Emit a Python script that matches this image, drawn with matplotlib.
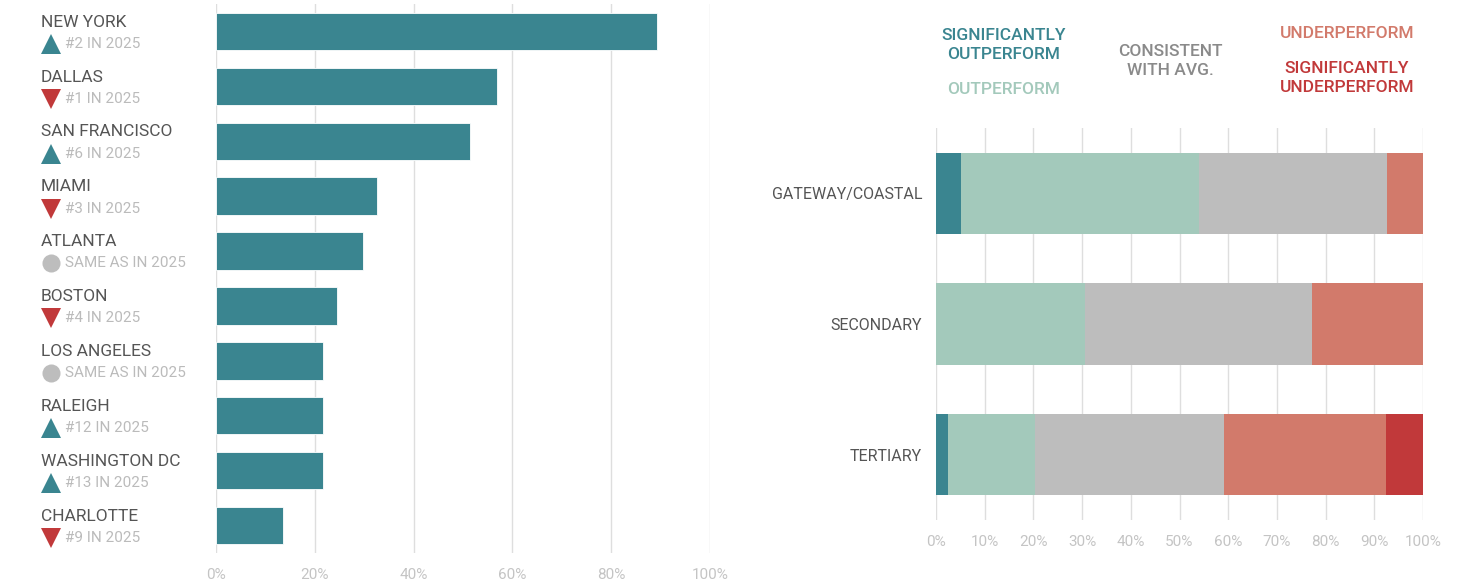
import matplotlib
matplotlib.use("Agg")
import matplotlib.pyplot as plt
from matplotlib.transforms import blended_transform_factory

plt.rcParams["font.family"] = ["Roboto", "DejaVu Sans"]

# ── data ────────────────────────────────────────
cities = ["NEW YORK", "DALLAS", "SAN FRANCISCO", "MIAMI", "ATLANTA",
          "BOSTON", "LOS ANGELES", "RALEIGH", "WASHINGTON DC", "CHARLOTTE"]
city_share = [89.3, 56.9, 51.4, 32.6, 29.8, 24.5, 21.7, 21.7, 21.7, 13.6]
prev_rank = ["#2 IN 2025", "#1 IN 2025", "#6 IN 2025", "#3 IN 2025",
             "SAME AS IN 2025", "#4 IN 2025", "SAME AS IN 2025",
             "#12 IN 2025", "#13 IN 2025", "#9 IN 2025"]
rank_move = ["up", "down", "up", "down", "same", "down", "same", "up", "up", "down"]

tiers = ["GATEWAY/COASTAL", "SECONDARY", "TERTIARY"]
sig_out = [5.1, 0.0, 2.5]
out = [48.9, 30.6, 17.8]
consistent = [38.6, 46.6, 38.8]
under = [7.4, 22.8, 33.3]
sig_under = [0.0, 0.0, 7.6]

TEAL = "#3A8590"
LIGHT_TEAL = "#A3C9BB"
GREY = "#BDBDBD"
SALMON = "#D27A6B"
RED = "#C1393A"
GRID = "#DEDEDE"
TICK = "#C4C4C4"
DARK = "#555555"

W, H = 1460, 582
fig = plt.figure(figsize=(W / 100, H / 100), dpi=100)

# ── left: city bars ─────────────────────────────
ax1 = fig.add_axes([216 / W, 1 - 553 / H, 494 / W, 549 / H])
ypos = list(range(len(cities)))
ax1.barh(ypos, city_share, height=0.68, color=TEAL, edgecolor="white",
         linewidth=0.6, zorder=3)
ax1.set_xlim(0, 100)
ax1.set_ylim(len(cities) - 0.5, -0.5)
ax1.set_xticks(range(0, 101, 20))
ax1.set_xticklabels([f"{v}%" for v in range(0, 101, 20)])
ax1.set_yticks([])
ax1.grid(True, axis="x", color=GRID, linewidth=1, zorder=0)
for s in ax1.spines.values():
    s.set_visible(False)
ax1.tick_params(axis="x", length=0, pad=11, labelsize=11, labelcolor=TICK)

tr = blended_transform_factory(fig.transFigure, ax1.transData)
marker_style = {"up": ("^", TEAL, 15), "down": ("v", RED, 15), "same": ("o", GREY, 13)}
for i, (name, rank, move) in enumerate(zip(cities, prev_rank, rank_move)):
    ax1.text(41 / W, i - 0.17, name, transform=tr, fontsize=12.5,
             color=DARK, va="center", ha="left")
    m, c, ms = marker_style[move]
    ax1.plot([51 / W], [i + 0.225], marker=m, color=c, markersize=ms,
             markeredgewidth=0, transform=tr, clip_on=False)
    ax1.text(65 / W, i + 0.225, rank, transform=tr, fontsize=11,
             color="#BBBBBB", va="center", ha="left")

# ── right: stacked tiers ────────────────────────
ax2 = fig.add_axes([936 / W, 1 - 520 / H, 487 / W, 392 / H])
ypos2 = list(range(len(tiers)))
left = [0.0] * len(tiers)
for vals, col in [(sig_out, TEAL), (out, LIGHT_TEAL), (consistent, GREY),
                  (under, SALMON), (sig_under, RED)]:
    ax2.barh(ypos2, vals, left=left, height=0.62, color=col, zorder=3)
    left = [l + v for l, v in zip(left, vals)]
ax2.set_xlim(0, 100)
ax2.set_ylim(len(tiers) - 0.5, -0.5)
ax2.set_xticks(range(0, 101, 10))
ax2.set_xticklabels([f"{v}%" for v in range(0, 101, 10)])
ax2.set_yticks(ypos2)
ax2.set_yticklabels(tiers)
ax2.grid(True, axis="x", color=GRID, linewidth=1, zorder=0)
for s in ax2.spines.values():
    s.set_visible(False)
ax2.tick_params(axis="x", length=0, pad=11, labelsize=11, labelcolor=TICK)
ax2.tick_params(axis="y", length=0, pad=10, labelsize=11.5, labelcolor=DARK)

# legend as coloured labels
legend_items = [
    (1004, 45, "SIGNIFICANTLY\nOUTPERFORM", TEAL),
    (1004, 89, "OUTPERFORM", LIGHT_TEAL),
    (1170, 61, "CONSISTENT\nWITH AVG.", "#8A8A8A"),
    (1347, 33, "UNDERPERFORM", SALMON),
    (1347, 78, "SIGNIFICANTLY\nUNDERPERFORM", RED),
]
for x, y, txt, col in legend_items:
    fig.text(x / W, 1 - y / H, txt, color=col, fontsize=12.5, fontweight="medium",
             ha="center", va="center", linespacing=1.35)

fig.savefig("out.png", dpi=100)
